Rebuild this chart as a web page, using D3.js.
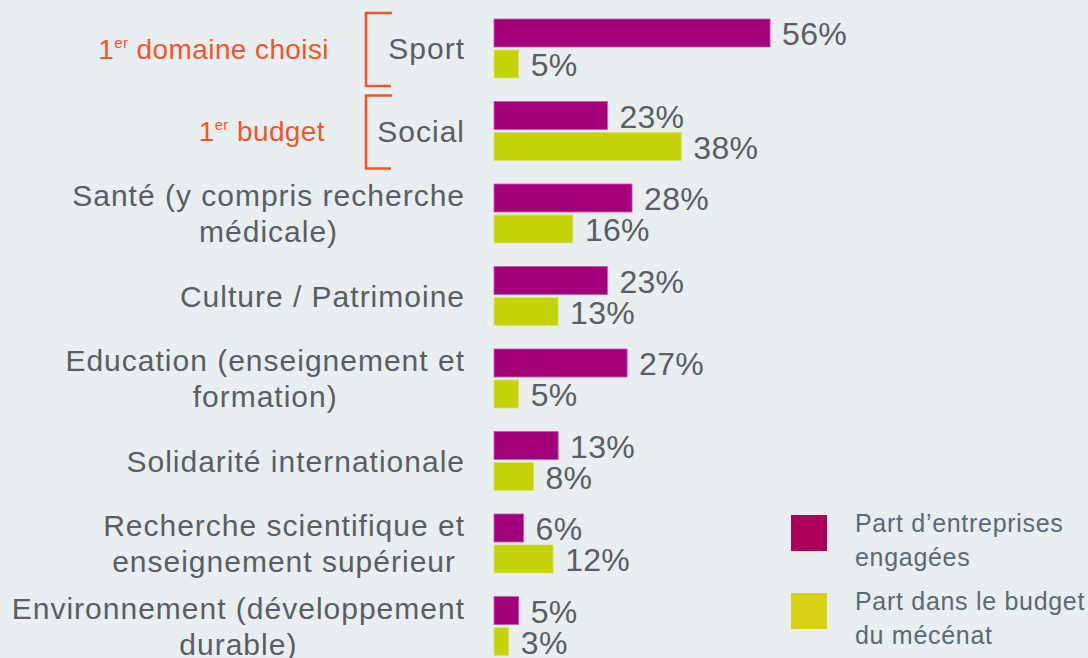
<!DOCTYPE html>
<html>
<head>
<meta charset="utf-8">
<script src="https://cdn.jsdelivr.net/npm/d3@7"></script>
<style>
  html, body { margin: 0; padding: 0; background: #e9eef0; }
  svg { display: block; font-family: "Liberation Sans", Arial, sans-serif; }
</style>
</head>
<body>
<div id="chart"></div>
<script>
// Domaines (lignes du libellé)
const categories = [
    ["Sport"],
    ["Social"],
    ["Santé (y compris recherche", "médicale)"],
    ["Culture / Patrimoine"],
    ["Education (enseignement et", "formation)"],
    ["Solidarité internationale"],
    ["Recherche scientifique et", "enseignement supérieur"],
    ["Environnement (développement", "durable)"]
];
const entreprises = [56, 23, 28, 23, 27, 13, 6, 5];
const budget = [5, 38, 16, 13, 5, 8, 12, 3];

const seriesNames = [
    ["Part d’entreprises", "engagées"],
    ["Part dans le budget", "du mécénat"]
];

// Annotations à gauche
const noteIndex = [0, 1];
const noteTexts = ["domaine choisi", "budget"];

const width = 1088;
const height = 658;
const barColors = ["#a3007b", "#c5d40a"];
const barStrokes = ["#c957a8", "#dbe46a"];
const legendColors = ["#ae0058", "#d8d116"];
const textColor = "#5a5e63";
const orange = "#f0562a";

const keys = categories.map((d, i) => i);
const series = ["entreprises", "budget"];
const values = { entreprises, budget };

const svg = d3.select("#chart").append("svg")
    .attr("width", width)
    .attr("height", height)
    .attr("viewBox", [0, 0, width, height]);

const step = 82.5;
const groupH = 59;
const y0 = d3.scaleBand()
    .domain(keys)
    .range([19, 19 + 7 * step + groupH])
    .paddingInner((step - groupH) / step)
    .paddingOuter(0);

const y1 = d3.scaleBand()
    .domain(series)
    .range([0, y0.bandwidth()])
    .paddingInner(3 / 31);

const x = d3.scaleLinear([0, 100], [494, 494 + 493]);

// Bars
const groups = svg.append("g").selectAll("g")
    .data(keys)
    .join("g")
    .attr("transform", d => `translate(0,${y0(d)})`);

groups.selectAll("rect")
    .data(i => series.map((s, j) => ({ s, j, v: values[s][i] })))
    .join("rect")
    .attr("x", x(0))
    .attr("y", d => y1(d.s))
    .attr("width", d => x(d.v) - x(0))
    .attr("height", y1.bandwidth())
    .attr("fill", d => barColors[d.j])
    .attr("stroke", d => barStrokes[d.j])
    .attr("stroke-width", 0.8);

groups.selectAll("text.val")
    .data(i => series.map((s, j) => ({ s, j, v: values[s][i] })))
    .join("text")
    .attr("class", "val")
    .attr("x", d => x(d.v) + 12)
    .attr("y", d => y1(d.s) + y1.bandwidth() / 2 + 12)
    .attr("fill", textColor)
    .attr("font-size", 32)
    .attr("letter-spacing", 0.3)
    .text(d => d.v + "%");

// Category labels (centered block, right edge aligned)
const labelRight = 465;
const lineH = 36;
keys.forEach(i => {
    const lines = categories[i];
    const cy = y0(i) + y0.bandwidth() / 2;
    const t = svg.append("text")
        .attr("fill", textColor)
        .attr("font-size", 30)
        .attr("letter-spacing", 1);
    const spans = lines.map((line, k) => t.append("tspan")
        .attr("y", cy - (lines.length - 1) * lineH / 2 + k * lineH + 10.5)
        .text(line));
    const maxW = d3.max(spans, s => s.node().getComputedTextLength());
    spans.forEach(s => s.attr("x", labelRight - maxW / 2).attr("text-anchor", "middle"));
});

// Annotations with brackets
noteIndex.forEach((i, k) => {
    const top = y0(i) - 6;
    const bottom = y0(i) + y0.bandwidth() + 8;
    const cy = y0(i) + y0.bandwidth() / 2;
    svg.append("path")
        .attr("d", `M392,${top}H366V${bottom}H391`)
        .attr("fill", "none")
        .attr("stroke", orange)
        .attr("stroke-width", 2.6);

    const t = svg.append("text")
        .attr("x", k === 0 ? 329 : 325)
        .attr("y", cy + 10)
        .attr("text-anchor", "end")
        .attr("fill", orange)
        .attr("font-size", 28)
        .attr("letter-spacing", 0.4);
    t.append("tspan").text("1");
    t.append("tspan").attr("font-size", 15).attr("dy", -11).text("er");
    t.append("tspan").attr("dy", 11).text(" " + noteTexts[k]);
});

// Legend
const legend = svg.append("g").selectAll("g")
    .data(seriesNames)
    .join("g")
    .attr("transform", (d, i) => `translate(791,${515 + i * 78})`);

legend.append("rect")
    .attr("width", 36)
    .attr("height", 36)
    .attr("fill", (d, i) => legendColors[i]);

legend.append("text")
    .attr("fill", "#5b6a73")
    .attr("font-size", 25)
    .attr("letter-spacing", 0.7)
    .selectAll("tspan")
    .data(d => d)
    .join("tspan")
    .attr("x", 64)
    .attr("y", (d, k) => 17 + k * 34)
    .text(d => d);
</script>
</body>
</html>
